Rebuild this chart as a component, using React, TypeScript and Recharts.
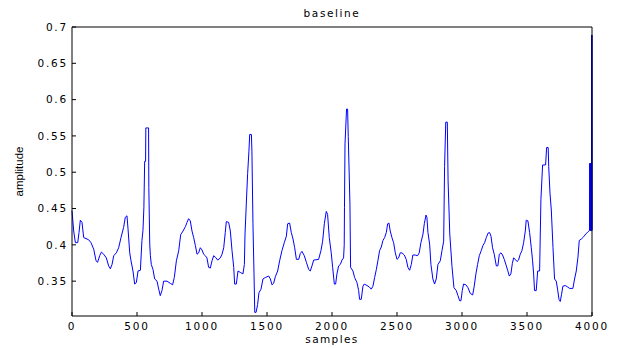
import { LineChart, Line, XAxis, YAxis } from 'recharts';

// Baseline trace (sample index -> amplitude)
const SAMPLES = [
  0, 13, 26, 44, 54, 64, 77, 90, 128, 146, 167, 185, 197, 213, 226, 244, 264, 282, 295, 308,
  321, 341, 359, 377, 397, 410, 423, 431, 444, 454, 469, 482, 495, 508, 526, 538, 546, 553, 559, 566,
  568, 589, 591, 598, 603, 610, 623, 636, 654, 667, 679, 692, 705, 731, 756, 774, 787, 803, 821, 836,
  854, 872, 885, 897, 910, 923, 936, 949, 962, 974, 987, 1000, 1013, 1026, 1038, 1051, 1064, 1077, 1090, 1103,
  1121, 1141, 1154, 1167, 1179, 1187, 1205, 1218, 1231, 1244, 1251, 1264, 1277, 1295, 1315, 1326, 1331, 1344, 1351, 1361,
  1367, 1380, 1384, 1392, 1400, 1406, 1416, 1428, 1438, 1454, 1469, 1487, 1513, 1526, 1538, 1551, 1564, 1582, 1597, 1615,
  1633, 1649, 1659, 1674, 1687, 1700, 1713, 1726, 1744, 1756, 1769, 1787, 1803, 1821, 1833, 1846, 1859, 1897, 1915, 1928,
  1941, 1956, 1966, 1979, 1994, 2005, 2018, 2028, 2038, 2051, 2064, 2077, 2089, 2094, 2096, 2100, 2112, 2120, 2125, 2138,
  2143, 2161, 2174, 2192, 2205, 2212, 2225, 2238, 2248, 2269, 2287, 2302, 2315, 2328, 2341, 2353, 2366, 2379, 2392, 2405,
  2418, 2428, 2438, 2448, 2461, 2474, 2487, 2500, 2512, 2525, 2538, 2556, 2571, 2584, 2597, 2610, 2622, 2640, 2658, 2671,
  2684, 2700, 2710, 2723, 2730, 2738, 2751, 2761, 2776, 2789, 2802, 2815, 2833, 2846, 2859, 2866, 2875, 2887, 2893, 2906,
  2923, 2938, 2956, 2969, 2982, 2992, 3002, 3012, 3030, 3046, 3064, 3082, 3094, 3107, 3120, 3133, 3148, 3161, 3174, 3187,
  3200, 3212, 3223, 3235, 3248, 3264, 3276, 3287, 3300, 3312, 3325, 3341, 3351, 3364, 3376, 3387, 3397, 3410, 3423, 3435,
  3448, 3461, 3474, 3487, 3494, 3507, 3520, 3533, 3543, 3551, 3558, 3571, 3582, 3597, 3607, 3620, 3643, 3651, 3663, 3667,
  3677, 3687, 3700, 3712, 3725, 3735, 3746, 3756, 3766, 3776, 3794, 3812, 3828, 3853, 3866, 3879, 3892, 3902, 3918, 3935,
  3953, 3969, 3982, 3983, 3984, 3985, 3986, 3987, 3988, 3989, 3990, 3991, 3992, 3993, 3994, 3995, 3996, 3997, 3998, 3999,
  4000,
];

const AMPLITUDE = [
  0.447, 0.419, 0.403, 0.403, 0.417, 0.434, 0.431, 0.41, 0.407, 0.403, 0.394, 0.378, 0.376, 0.385, 0.39, 0.387, 0.382, 0.371, 0.367, 0.373,
  0.385, 0.389, 0.396, 0.41, 0.424, 0.438, 0.44, 0.422, 0.389, 0.378, 0.364, 0.346, 0.348, 0.364, 0.365, 0.406, 0.42, 0.451, 0.515, 0.515,
  0.561, 0.561, 0.479, 0.401, 0.385, 0.373, 0.366, 0.353, 0.35, 0.339, 0.33, 0.337, 0.35, 0.35, 0.347, 0.345, 0.355, 0.378, 0.392, 0.414,
  0.419, 0.425, 0.431, 0.436, 0.433, 0.419, 0.41, 0.399, 0.387, 0.389, 0.396, 0.393, 0.387, 0.385, 0.382, 0.369, 0.368, 0.378, 0.385, 0.383,
  0.379, 0.382, 0.387, 0.396, 0.417, 0.432, 0.431, 0.419, 0.392, 0.369, 0.346, 0.346, 0.364, 0.362, 0.36, 0.373, 0.415, 0.47, 0.498, 0.529,
  0.552, 0.552, 0.529, 0.429, 0.36, 0.307, 0.307, 0.318, 0.334, 0.339, 0.353, 0.355, 0.357, 0.353, 0.345, 0.347, 0.356, 0.364, 0.378, 0.392,
  0.403, 0.412, 0.429, 0.43, 0.417, 0.408, 0.396, 0.38, 0.38, 0.388, 0.391, 0.385, 0.376, 0.366, 0.364, 0.371, 0.379, 0.38, 0.392, 0.405,
  0.429, 0.446, 0.442, 0.41, 0.389, 0.369, 0.346, 0.346, 0.36, 0.371, 0.373, 0.379, 0.382, 0.4, 0.451, 0.539, 0.587, 0.587, 0.549, 0.456,
  0.369, 0.364, 0.355, 0.348, 0.337, 0.325, 0.325, 0.343, 0.346, 0.344, 0.342, 0.339, 0.343, 0.355, 0.366, 0.378, 0.392, 0.397, 0.406, 0.41,
  0.417, 0.429, 0.43, 0.419, 0.41, 0.403, 0.389, 0.38, 0.382, 0.389, 0.389, 0.386, 0.38, 0.369, 0.365, 0.373, 0.386, 0.386, 0.385, 0.389,
  0.403, 0.415, 0.429, 0.441, 0.438, 0.417, 0.401, 0.373, 0.353, 0.346, 0.353, 0.373, 0.378, 0.392, 0.405, 0.508, 0.569, 0.569, 0.488, 0.415,
  0.37, 0.341, 0.337, 0.33, 0.323, 0.323, 0.337, 0.346, 0.345, 0.341, 0.333, 0.331, 0.343, 0.36, 0.373, 0.385, 0.392, 0.399, 0.403, 0.41,
  0.416, 0.417, 0.412, 0.396, 0.387, 0.371, 0.371, 0.387, 0.389, 0.386, 0.38, 0.371, 0.365, 0.357, 0.36, 0.374, 0.382, 0.38, 0.377, 0.379,
  0.387, 0.392, 0.403, 0.419, 0.434, 0.433, 0.417, 0.396, 0.378, 0.36, 0.337, 0.337, 0.364, 0.364, 0.462, 0.51, 0.51, 0.534, 0.534, 0.508,
  0.471, 0.448, 0.396, 0.353, 0.35, 0.339, 0.325, 0.322, 0.332, 0.343, 0.344, 0.342, 0.34, 0.34, 0.353, 0.364, 0.383, 0.406, 0.408, 0.411,
  0.415, 0.418, 0.42, 0.512, 0.42, 0.512, 0.42, 0.512, 0.42, 0.512, 0.42, 0.512, 0.42, 0.512, 0.42, 0.512, 0.42, 0.689, 0.42, 0.689,
  0.42,
];

const X_TICKS = [0, 500, 1000, 1500, 2000, 2500, 3000, 3500, 4000];
const Y_TICKS = [0.35, 0.4, 0.45, 0.5, 0.55, 0.6, 0.65, 0.7];

const X_DOMAIN: [number, number] = [0, 4000];
const Y_DOMAIN: [number, number] = [0.302, 0.7];

const FONT = '"DejaVu Sans", Verdana, sans-serif';

const data = SAMPLES.map((s, i) => ({ sample: s, amplitude: AMPLITUDE[i] }));

const tickStyle = { fontSize: 10.5, fill: '#000', fontFamily: FONT, letterSpacing: 1.8 };
const axisLine = { stroke: '#000', strokeWidth: 1 };
const tickLine = { stroke: '#000', strokeWidth: 1 };

export default function App() {
  return (
    <LineChart
      width={601}
      height={340}
      data={data}
      margin={{ top: 18, right: 16, bottom: 0, left: 4 }}
    >
      {/* bottom axis: labels + inward ticks */}
      <XAxis
        xAxisId="b"
        type="number"
        dataKey="sample"
        domain={X_DOMAIN}
        ticks={X_TICKS}
        interval={0}
        height={32}
        tickSize={-4}
        tickMargin={11}
        tick={tickStyle}
        axisLine={axisLine}
        tickLine={tickLine}
        label={{ value: 'samples', position: 'insideBottom', offset: 5, fontSize: 10.5, fill: '#000', fontFamily: FONT, letterSpacing: 1.4 }}
      />
      {/* top axis: box edge + inward ticks, holds the title */}
      <XAxis
        xAxisId="t"
        orientation="top"
        type="number"
        dataKey="sample"
        domain={X_DOMAIN}
        ticks={X_TICKS}
        interval={0}
        height={1}
        tickSize={-4}
        tick={false}
        axisLine={axisLine}
        tickLine={tickLine}
        label={{ value: 'baseline', position: 'top', offset: 9, fontSize: 10.5, fill: '#000', fontFamily: FONT, letterSpacing: 1.6 }}
      />
      <YAxis
        yAxisId="l"
        type="number"
        domain={Y_DOMAIN}
        ticks={Y_TICKS}
        interval={0}
        width={60}
        tickSize={-4}
        tickMargin={8}
        tick={tickStyle}
        tickFormatter={(v: number) => String(v)}
        axisLine={axisLine}
        tickLine={tickLine}
        allowDataOverflow
        label={{ value: 'amplitude', angle: -90, position: 'insideLeft', offset: 7, fontSize: 11.5, fill: '#000', fontFamily: '"Liberation Sans", Arial, sans-serif', style: { textAnchor: 'middle' } }}
      />
      <YAxis
        yAxisId="r"
        orientation="right"
        type="number"
        domain={Y_DOMAIN}
        ticks={Y_TICKS}
        interval={0}
        width={1}
        tickSize={-4}
        tick={false}
        axisLine={axisLine}
        tickLine={tickLine}
        allowDataOverflow
      />
      <Line
        xAxisId="b"
        yAxisId="l"
        type="linear"
        dataKey="amplitude"
        stroke="#0000ff"
        strokeWidth={1}
        dot={false}
        isAnimationActive={false}
      />
    </LineChart>
  );
}
